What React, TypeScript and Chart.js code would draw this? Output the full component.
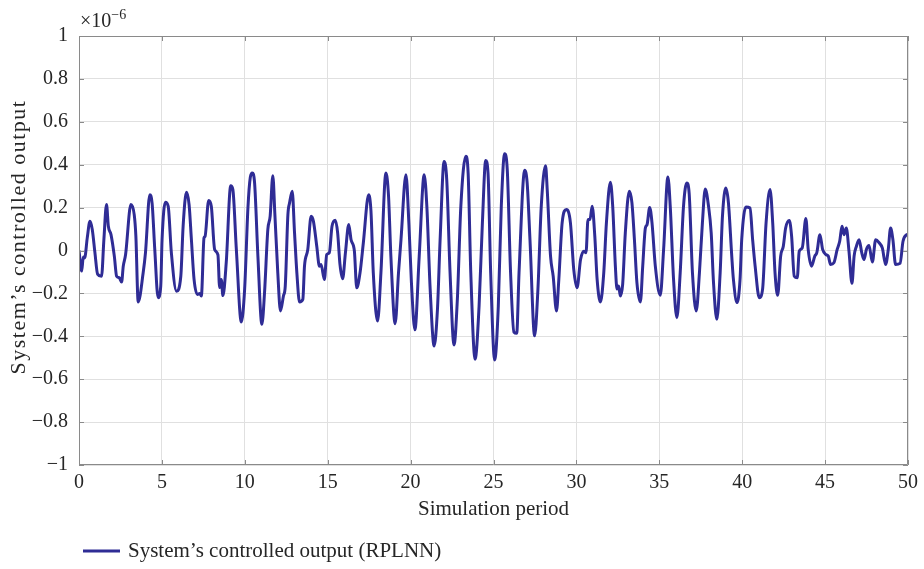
import { useEffect, useRef } from "react";
import { Chart, registerables } from "chart.js";

Chart.register(...registerables);

// Simulation period (x) and system's controlled output (y, in units of 1e-6)
const simulationPeriod = [
  0.0, 0.16, 0.26, 0.34, 0.5, 0.66, 0.8, 0.96, 1.12, 1.36, 1.5, 1.66, 1.77, 1.93, 2.13, 2.27, 2.43, 2.57, 2.67, 2.81,
  3.13, 3.33, 3.43, 3.57, 3.87, 4.01, 4.27, 4.41, 4.57, 4.77, 4.93, 5.01, 5.21, 5.38, 5.57, 5.88, 6.14, 6.28, 6.48, 6.64,
  6.78, 6.94, 7.14, 7.28, 7.38, 7.54, 7.6, 7.82, 7.98, 8.18, 8.38, 8.48, 8.58, 8.68, 8.88, 9.15, 9.28, 9.49, 9.79, 9.99,
  10.19, 10.33, 10.45, 10.59, 10.79, 11.03, 11.19, 11.39, 11.53, 11.69, 11.81, 11.99, 12.15, 12.33, 12.44, 12.6, 12.7, 12.86, 13.0, 13.14,
  13.3, 13.5, 13.6, 13.8, 14.0, 14.14, 14.34, 14.5, 14.6, 14.8, 14.94, 15.1, 15.26, 15.46, 15.6, 15.74, 15.9, 16.07, 16.27, 16.41,
  16.61, 16.75, 16.95, 17.15, 17.47, 17.61, 17.75, 18.01, 18.21, 18.51, 18.67, 18.81, 19.07, 19.27, 19.42, 19.72, 19.9, 20.05, 20.26, 20.52,
  20.82, 20.98, 21.18, 21.42, 21.62, 21.78, 22.02, 22.18, 22.38, 22.62, 22.82, 23.03, 23.33, 23.47, 23.63, 23.89, 24.13, 24.33, 24.53, 24.67,
  24.83, 25.07, 25.29, 25.47, 25.67, 25.83, 26.03, 26.23, 26.4, 26.54, 26.88, 27.03, 27.2, 27.48, 27.68, 27.88, 28.14, 28.24, 28.44, 28.6,
  28.8, 28.94, 29.14, 29.4, 29.64, 29.84, 30.04, 30.25, 30.45, 30.58, 30.7, 30.82, 30.95, 31.11, 31.25, 31.45, 31.65, 31.81, 32.05, 32.19,
  32.35, 32.45, 32.55, 32.65, 32.79, 32.95, 33.19, 33.35, 33.5, 33.65, 33.86, 34.0, 34.16, 34.26, 34.42, 34.56, 34.76, 35.06, 35.26, 35.52,
  35.66, 35.86, 36.06, 36.26, 36.46, 36.66, 36.8, 37.0, 37.23, 37.42, 37.6, 37.77, 37.97, 38.13, 38.27, 38.47, 38.67, 38.81, 39.01, 39.17,
  39.37, 39.47, 39.69, 39.87, 39.97, 40.23, 40.47, 40.63, 40.78, 41.03, 41.23, 41.44, 41.68, 41.84, 41.98, 42.14, 42.32, 42.48, 42.62, 42.84,
  42.98, 43.14, 43.32, 43.44, 43.62, 43.84, 43.98, 44.18, 44.38, 44.5, 44.69, 44.85, 45.05, 45.19, 45.33, 45.53, 45.73, 45.88, 46.02, 46.14,
  46.28, 46.44, 46.62, 46.75, 46.89, 47.05, 47.21, 47.35, 47.49, 47.65, 47.85, 48.05, 48.26, 48.45, 48.65, 48.81, 48.95, 49.09, 49.25, 49.52,
  49.7, 49.97,
];

const controlledOutput = [
  0.0, -0.096, -0.03, -0.035, 0.06, 0.136, 0.098, -0.01, -0.11, -0.12, 0.05, 0.214, 0.113, 0.074, -0.026, -0.12, -0.127, -0.147, -0.073, -0.019,
  0.214, 0.167, 0.067, -0.24, -0.104, -0.01, 0.26, 0.22, 0.005, -0.22, -0.166, 0.05, 0.225, 0.206, -0.01, -0.19, -0.12, 0.113, 0.271, 0.214,
  0.05, -0.135, -0.205, -0.2, -0.212, 0.059, 0.065, 0.233, 0.206, 0.005, -0.02, -0.173, -0.135, -0.21, -0.057, 0.302, 0.284, 0.005, -0.333, -0.18,
  0.2, 0.34, 0.361, 0.315, -0.026, -0.344, -0.197, 0.098, 0.16, 0.349, 0.175, -0.104, -0.282, -0.212, -0.166, 0.167, 0.222, 0.276, 0.082, -0.104,
  -0.24, -0.228, -0.073, 0.005, 0.16, 0.136, 0.02, -0.073, -0.065, -0.135, -0.019, -0.01, 0.113, 0.141, 0.082, -0.065, -0.132, -0.01, 0.121, 0.05,
  -0.003, -0.174, -0.104, 0.036, 0.26, 0.183, -0.104, -0.329, -0.104, 0.361, 0.253, -0.026, -0.341, -0.104, 0.05, 0.353, 0.12, -0.15, -0.37, -0.026,
  0.353, 0.206, -0.18, -0.445, -0.274, 0.05, 0.415, 0.33, -0.104, -0.44, -0.228, 0.206, 0.439, 0.361, -0.104, -0.507, -0.259, 0.129, 0.42, 0.361,
  -0.104, -0.51, -0.259, 0.206, 0.451, 0.377, -0.104, -0.38, -0.386, -0.104, 0.374, 0.315, 0.05, -0.398, -0.18, 0.206, 0.395, 0.284, -0.026, -0.12,
  -0.282, -0.135, 0.129, 0.191, 0.129, -0.088, -0.174, -0.042, -0.003, -0.01, 0.144, 0.144, 0.206, 0.067, -0.135, -0.24, -0.104, 0.129, 0.318, 0.206,
  -0.073, -0.18, -0.166, -0.212, -0.158, 0.082, 0.276, 0.222, 0.05, -0.15, -0.24, -0.073, 0.105, 0.12, 0.201, 0.129, -0.073, -0.209, 0.005, 0.343,
  0.206, -0.135, -0.313, -0.104, 0.206, 0.315, 0.268, -0.104, -0.282, -0.104, 0.129, 0.287, 0.206, 0.082, -0.15, -0.321, -0.104, 0.16, 0.291, 0.222,
  -0.026, -0.135, -0.243, -0.135, 0.05, 0.203, 0.198, 0.05, -0.073, -0.22, -0.18, 0.129, 0.284, 0.129, -0.104, -0.209, -0.026, 0.02, 0.105, 0.14,
  0.067, -0.12, -0.127, -0.003, 0.012, 0.149, 0.005, -0.073, -0.026, -0.01, 0.074, 0.005, -0.019, -0.026, -0.065, -0.057, 0.005, 0.043, 0.113, 0.074,
  0.105, -0.003, -0.153, -0.026, 0.02, 0.05, -0.01, -0.042, 0.005, 0.023, -0.054, 0.05, 0.036, 0.012, -0.065, 0.005, 0.105, 0.05, -0.065, -0.06,
  0.043, 0.078,
];

const xTicks = [0, 5, 10, 15, 20, 25, 30, 35, 40, 45, 50];
const yTicks = [-1, -0.8, -0.6, -0.4, -0.2, 0, 0.2, 0.4, 0.6, 0.8, 1];

const seriesLabel = "System’s controlled output (RPLNN)";
const xTitle = "Simulation period";
const yTitle = "System’s controlled output";
const exponentBase = "×10";
const exponentPower = "−6";

const FONT = "'Liberation Serif', 'DejaVu Serif', serif";
const TEXT = "#262626";
const LINE = "#2f2c95";
const FRAME = "#8a8a8a";
const GRID = "#e0e0e0";

function fmt(v: number): string {
  const r = Math.round(v * 10) / 10;
  const s = String(Math.abs(r));
  return r < 0 ? "\u2212" + s : s;
}

const decorPlugin = {
  id: "decor",
  afterDraw(chart: any) {
    const { ctx, chartArea } = chart;
    const { left, right, top, bottom } = chartArea;
    const xs = chart.scales.x;
    const ys = chart.scales.y;
    ctx.save();
    // frame
    ctx.strokeStyle = FRAME;
    ctx.lineWidth = 1;
    ctx.beginPath();
    ctx.rect(left + 0.5, top + 0.5, right - left - 1, bottom - top - 1);
    ctx.stroke();
    // inward ticks
    ctx.beginPath();
    const tl = 5;
    xTicks.forEach((v) => {
      const px = Math.round(xs.getPixelForValue(v)) + 0.5;
      ctx.moveTo(px, bottom);
      ctx.lineTo(px, bottom - tl);
      ctx.moveTo(px, top);
      ctx.lineTo(px, top + tl);
    });
    yTicks.forEach((v) => {
      const py = Math.round(ys.getPixelForValue(v)) + 0.5;
      ctx.moveTo(left, py);
      ctx.lineTo(left + tl, py);
      ctx.moveTo(right, py);
      ctx.lineTo(right - tl, py);
    });
    ctx.stroke();

    // exponent label
    ctx.fillStyle = TEXT;
    ctx.textBaseline = "alphabetic";
    ctx.textAlign = "left";
    ctx.font = `20px ${FONT}`;
    ctx.fillText(exponentBase, left + 1, top - 9);
    const w = ctx.measureText(exponentBase).width;
    ctx.font = `14px ${FONT}`;
    ctx.fillText(exponentPower, left + 1 + w, top - 17);

    // y-axis title
    ctx.save();
    ctx.translate(19, 237);
    ctx.rotate(-Math.PI / 2);
    ctx.font = `22px ${FONT}`;
    try {
      (ctx as any).letterSpacing = "1.5px";
    } catch (e) {}
    ctx.textAlign = "center";
    ctx.textBaseline = "middle";
    ctx.fillText(yTitle, 0, 0);
    ctx.restore();

    // legend
    const ds = chart.data.datasets[0];
    const ly = 551;
    ctx.strokeStyle = ds.borderColor;
    ctx.lineWidth = 3;
    ctx.beginPath();
    ctx.moveTo(83, ly);
    ctx.lineTo(120, ly);
    ctx.stroke();
    ctx.fillStyle = TEXT;
    ctx.font = `21px ${FONT}`;
    ctx.textAlign = "left";
    ctx.textBaseline = "middle";
    ctx.fillText(ds.label, 128, ly);
    ctx.restore();
  },
};

export default function App() {
  const ref = useRef<HTMLCanvasElement | null>(null);
  useEffect(() => {
    if (!ref.current) return;
    const chart = new Chart(ref.current, {
      type: "line",
      data: {
        datasets: [
          {
            label: seriesLabel,
            data: simulationPeriod.map((x, i) => ({ x, y: controlledOutput[i] })),
            borderColor: LINE,
            backgroundColor: LINE,
            borderWidth: 3,
            pointRadius: 0,
            cubicInterpolationMode: "monotone",
            fill: false,
          },
        ],
      },
      options: {
        animation: false,
        responsive: false,
        layout: { padding: { left: 0, right: 13, top: 36, bottom: 44 } },
        plugins: { legend: { display: false }, tooltip: { enabled: false } },
        scales: {
          x: {
            type: "linear",
            min: 0,
            max: 50,
            afterBuildTicks: (s: any) => {
              s.ticks = xTicks.map((v) => ({ value: v }));
            },
            afterFit: (s: any) => {
              s.height = 60;
            },
            grid: { color: GRID, drawTicks: false },
            border: { display: false },
            ticks: {
              padding: 6,
              color: TEXT,
              font: { family: FONT, size: 20 },
              maxRotation: 0,
              callback: (v: any) => fmt(Number(v)),
            },
            title: {
              display: true,
              text: xTitle,
              color: TEXT,
              font: { family: FONT, size: 21 },
              padding: { top: 0, bottom: 3 },
            },
          },
          y: {
            type: "linear",
            min: -1,
            max: 1,
            afterBuildTicks: (s: any) => {
              s.ticks = yTicks.map((v) => ({ value: v }));
            },
            afterFit: (s: any) => {
              s.width = 79;
            },
            grid: { color: GRID, drawTicks: false },
            border: { display: false },
            ticks: {
              padding: 11,
              color: TEXT,
              font: { family: FONT, size: 20 },
              callback: (v: any) => fmt(Number(v)),
            },
            title: { display: false },
          },
        },
      },
      plugins: [decorPlugin],
    });
    return () => chart.destroy();
  }, []);
  return (
    <div style={{ position: "fixed", left: 0, top: 0, width: 924, height: 569, background: "#fff" }}>
      <canvas ref={ref} width={924} height={569} />
    </div>
  );
}
